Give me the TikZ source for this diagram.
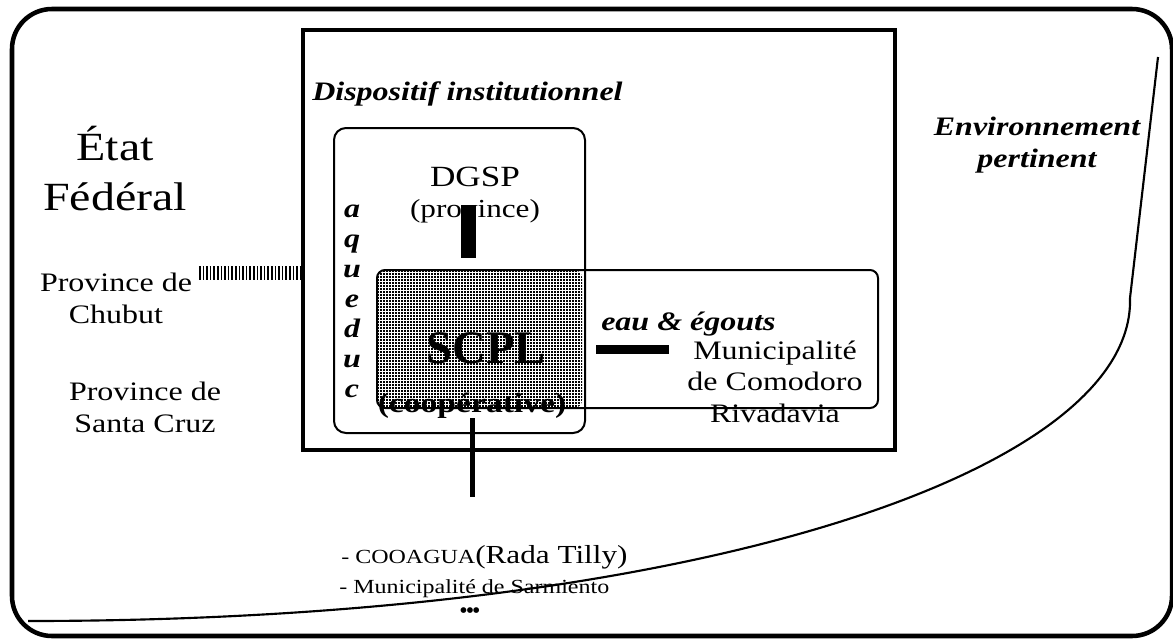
\documentclass[tikz,border=0pt]{standalone}
\usepackage{fontspec}
\setmainfont[FakeStretch=1.2]{Liberation Serif}
\newfontfamily\tallserif{Liberation Serif}
\usepackage{tikz}
\usetikzlibrary{calc}

\tikzset{
  txt/.style={inner sep=0pt, align=center},
  bigtxt/.style={txt, font=\fontsize{30}{37.5}\selectfont},
  midtxt/.style={txt, font=\fontsize{20}{23.5}\selectfont},
  headtxt/.style={txt, font=\fontsize{20}{24}\selectfont\bfseries\itshape},
  smalltxt/.style={txt, font=\fontsize{15}{18}\selectfont},
  roundbox/.style={draw, rounded corners=6pt, line width=1.5pt, inner sep=0pt},
  dotrow/.style={line width=1.5pt, dash pattern=on 1.5pt off 0.75pt},
  hatchlink/.style={line width=10.5pt, dash pattern=on 1.3pt off 1.4pt},
  barlink/.style={line width=#1},
}

\begin{document}
\begin{tikzpicture}[x=0.75pt,y=-0.75pt]
  \useasboundingbox (0,0) rectangle (1173,639);
  \clip (0,0) rectangle (1173,639);

  % outer frame and environment limit
  \draw[line width=3.4pt, rounded corners=30pt] (12,9) rectangle (1172,636);
  \draw[line width=1.6pt] (28,621) .. controls (700,621) and (1135,470) .. (1130,298) -- (1158,57);

  \node[
    rectangle,
    minimum width=444pt,
    minimum height=315pt,
    draw,
    line width=3.4pt] at (599,240) (disp) {};

  \node[roundbox, rounded corners=9pt, minimum width=188.25pt, minimum height=228.75pt] at (459.5,280.5) (dgspbox) {};

  \node[
    inner sep=0pt,
    rounded corners=6pt,
    minimum width=153.75pt,
    minimum height=103.5pt,
    path picture={
      \foreach \k in {0,...,46}
        \draw[dotrow] ([yshift=-\k*2.25pt-1pt]path picture bounding box.north west) -- ++(160pt,0);
    }] at (479.5,339) (scplbox) {};

  \node[roundbox, minimum width=375.75pt, minimum height=103.5pt] at (627.5,339) (munibox) {};

  % texts (base = last line)
  \node[bigtxt, anchor=base] (etat) at (115,210) {État\\Fédéral};
  \node[midtxt, anchor=base] (chubut) at (116,323) {Province de\\Chubut};
  \node[midtxt, anchor=base] (santacruz) at (145,432) {Province de\\Santa Cruz};
  \node[headtxt, anchor=base west] (disptitle) at (312,100) {Dispositif institutionnel};
  \node[txt, anchor=base, font=\fontsize{22}{23.25}\selectfont] (dgsp) at (475,217) {DGSP\\{\fontsize{19.5}{23.25}\selectfont(province)}};
  \node[txt, anchor=base, font=\tallserif\bfseries\fontsize{35}{40}\selectfont] (scpl) at (486,363) {SCPL};
  \node[txt, anchor=base, font=\bfseries\fontsize{21}{24}\selectfont] (coop) at (472,412) {(coopérative)};
  \node[headtxt, anchor=base, font=\bfseries\itshape\fontsize{20}{22.5}\selectfont] (aqueduc) at (352,397) {a\\q\\u\\e\\d\\u\\c};
  \node[headtxt, anchor=base west] (eau) at (601,330) {eau \& égouts};
  \node[midtxt, anchor=base] (muni) at (775,422) {Municipalité\\de Comodoro\\Rivadavia};
  \node[headtxt, anchor=base] (env) at (1037,167) {Environnement\\pertinent};
  \node[smalltxt, anchor=base west] (cooagua) at (341,563) {- COOAGUA{\fontsize{19.5}{23}\selectfont(Rada Tilly)}};
  \node[smalltxt, anchor=base west] (sarm) at (339,593) {- Municipalité de Sarmiento};
  \node[txt, font=\tallserif\fontsize{18}{20}\selectfont] (etc) at (470,613) {•\kern-1.5pt•\kern-1.5pt•};

  % links
  \coordinate (coopend) at (472,497);
  \draw[hatchlink] ([xshift=5pt]chubut.north east) -- (chubut.north east -| disp.west);
  \draw[barlink=11.25pt] ($(dgsp.south)+(-7,-18)$) -- ($(dgsp.south |- scplbox.north)+(-7,-12)$);
  \draw[barlink=6.75pt] ($(scplbox.east)+(14,10.5)$) -- ($(muni.west |- scplbox.east)+(-18,10.5)$);
  \draw[barlink=3.75pt] (coop.south) -- (coopend);

\end{tikzpicture}
\end{document}
